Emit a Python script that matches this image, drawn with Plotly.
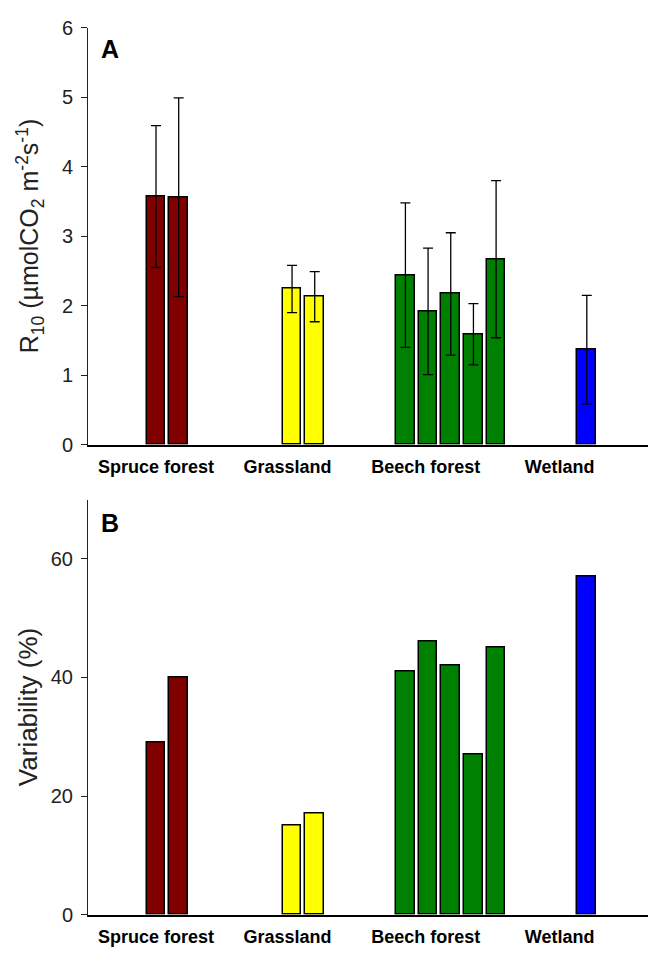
import plotly.graph_objects as go

# Bar positions along the x axis (sites grouped by ecosystem)
positions = [3, 4, 9, 10, 14, 15, 16, 17, 18, 22]
bar_colors = ["#800000", "#800000", "#FFFF00", "#FFFF00",
              "#008000", "#008000", "#008000", "#008000", "#008000", "#0000FF"]

# Panel A: R10 (mean +/- sd)
r10 = [3.57, 3.56, 2.24, 2.13, 2.44, 1.92, 2.17, 1.59, 2.67, 1.37]
r10_sd = [1.02, 1.43, 0.34, 0.36, 1.04, 0.91, 0.88, 0.44, 1.13, 0.78]

# Panel B: spatial variability (%)
variability = [29, 40, 15, 17, 41, 46, 42, 27, 45, 57]

# Ecosystem labels and where they sit under each group
group_names = ["Spruce forest", "Grassland", "Beech forest", "Wetland"]
group_label_x = [3.0, 8.8, 14.9, 20.8]

FONT = "Liberation Sans, Arial, sans-serif"
W, H = 648, 959
x_left = 88 / W
topA, botA = 1 - 17 / H, 1 - 444 / H
topB, botB = 1 - 500 / H, 1 - 925 / H

fig = go.Figure()

fig.add_trace(go.Bar(
    x=positions, y=r10, width=0.82,
    marker=dict(color=bar_colors, line=dict(color="black", width=1.5)),
    error_y=dict(type="data", array=r10_sd, visible=True,
                 color="black", thickness=1.3, width=5),
    xaxis="x", yaxis="y", showlegend=False,
))
fig.add_trace(go.Bar(
    x=positions, y=variability, width=0.82,
    marker=dict(color=bar_colors, line=dict(color="black", width=1.5)),
    xaxis="x2", yaxis="y2", showlegend=False,
))

xcommon = dict(range=[0, 24.7], tickmode="array", tickvals=group_label_x,
               ticktext=group_names, ticks="", ticklabelstandoff=5,
               tickfont=dict(family=FONT, size=18, color="black", weight="bold"),
               showgrid=False, zeroline=False, showline=True,
               linecolor="black", linewidth=2, domain=[x_left, 1])
ycommon = dict(showgrid=False, zeroline=False, showline=True, linecolor="#222",
               linewidth=1, ticks="outside", ticklen=6, tickcolor="#222",
               ticklabelstandoff=4,
               tickfont=dict(family=FONT, size=20, color="#222"))

fig.update_layout(
    width=W, height=H,
    margin=dict(l=0, r=0, t=0, b=0),
    plot_bgcolor="white", paper_bgcolor="white",
    bargap=0,
    xaxis=dict(**xcommon, anchor="y"),
    yaxis=dict(**ycommon, range=[0, 6], tickvals=[0, 1, 2, 3, 4, 5, 6],
               domain=[botA, topA], anchor="x"),
    xaxis2=dict(**xcommon, anchor="y2"),
    yaxis2=dict(**ycommon, range=[0, 70], tickvals=[0, 20, 40, 60],
                domain=[botB, topB], anchor="x2"),
)

annotations = []
# Panel letters
for letter, ytop, drop in (("A", topA, 21), ("B", topB, 23)):
    annotations.append(dict(
        x=99 / W, y=ytop, xref="paper", yref="paper", text="<b>" + letter + "</b>",
        showarrow=False, xanchor="left", yanchor="middle", yshift=-drop,
        font=dict(family=FONT, size=25, color="black"),
    ))

# Y-axis titles
annotations.append(dict(
    x=30 / W, y=(botA + topA) / 2, xref="paper", yref="paper",
    text="R<sub>10</sub> (µmolCO<sub>2</sub> m<sup>-2</sup>s<sup>-1</sup>)",
    textangle=-90, showarrow=False, xanchor="center", yanchor="middle",
    font=dict(family=FONT, size=25, color="#222"),
))
annotations.append(dict(
    x=28 / W, y=(botB + topB) / 2, xref="paper", yref="paper",
    text="Variability (%)",
    textangle=-90, showarrow=False, xanchor="center", yanchor="middle",
    font=dict(family=FONT, size=26, color="#222"),
))

fig.update_layout(annotations=annotations)
fig.write_html("out.html")
